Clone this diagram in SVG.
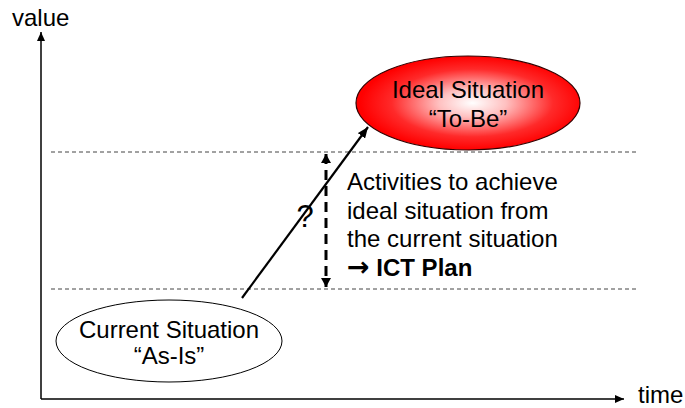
<svg xmlns="http://www.w3.org/2000/svg" width="685" height="408" viewBox="0 0 685 408">
  <style>
    text { font-family: "Liberation Sans", Arial, sans-serif; font-size: 24px; fill: #000; }
    .c { text-anchor: middle; }
    .sym { font-family: "DejaVu Sans", "Liberation Sans", sans-serif; font-size: 27px; }
    .axis { stroke: #000; stroke-width: 1.5; fill: none; }
    .level { stroke: #444; stroke-width: 1; stroke-dasharray: 4 3; fill: none; }
    .flow { stroke: #000; stroke-width: 2.2; fill: none; }
    .gap { stroke: #000; stroke-width: 3; stroke-dasharray: 10 6; fill: none; }
  </style>
  <defs>
    <marker id="tip" viewBox="0 0 10 10" refX="10" refY="5" markerWidth="9" markerHeight="8" markerUnits="userSpaceOnUse" orient="auto" preserveAspectRatio="none">
      <path d="M0,0 L10,5 L0,10 Z" fill="#000"/>
    </marker>
    <marker id="tipFlow" viewBox="0 0 10 10" refX="10" refY="5" markerWidth="11" markerHeight="9" markerUnits="userSpaceOnUse" orient="auto" preserveAspectRatio="none">
      <path d="M0,0 L10,5 L0,10 Z" fill="#000"/>
    </marker>
    <marker id="tipGap" viewBox="0 0 10 10" refX="10" refY="5" markerWidth="9" markerHeight="10" markerUnits="userSpaceOnUse" orient="auto-start-reverse" preserveAspectRatio="none">
      <path d="M0,0 L10,5 L0,10 Z" fill="#000"/>
    </marker>
    <radialGradient id="redGlow" cx="0.52" cy="0.5" r="0.5">
      <stop offset="0" stop-color="#ffffff"/>
      <stop offset="0.3" stop-color="#ffc0c0"/>
      <stop offset="0.72" stop-color="#ff2a2a"/>
      <stop offset="1" stop-color="#ff0000"/>
    </radialGradient>
  </defs>

  <!-- axes -->
  <g id="axes">
    <line class="axis" x1="41" y1="399" x2="41" y2="32" marker-end="url(#tip)"/>
    <line class="axis" x1="41" y1="399" x2="624" y2="399" marker-end="url(#tip)"/>
    <text x="12" y="26">value</text>
    <text x="638" y="403">time</text>
  </g>

  <!-- value levels -->
  <g id="levels">
    <line class="level" x1="51" y1="152" x2="637" y2="152"/>
    <line class="level" x1="51" y1="289" x2="637" y2="289"/>
  </g>

  <g id="connectors">
    <line class="flow" x1="242" y1="298" x2="368" y2="127" marker-end="url(#tipFlow)"/>
    <line class="gap" x1="326" y1="154" x2="326" y2="287" marker-start="url(#tipGap)" marker-end="url(#tipGap)"/>
  </g>

  <g id="ideal">
    <ellipse cx="468" cy="103" rx="112" ry="47" fill="url(#redGlow)" stroke="#300" stroke-width="1.2"/>
    <text class="c" x="468" y="98">Ideal Situation</text>
    <text class="c" x="468" y="127">“To-Be”</text>
  </g>

  <g id="current">
    <ellipse cx="169" cy="341" rx="113" ry="41" fill="#fff" stroke="#000" stroke-width="1"/>
    <text class="c" x="169" y="338">Current Situation</text>
    <text class="c" x="169" y="364">“As-Is”</text>
  </g>

  <g id="question">
    <text class="c" x="305" y="227" style="font-size:31px">?</text>
  </g>

  <g id="activities">
    <text x="347" y="190">Activities to achieve</text>
    <text x="347" y="218.5">ideal situation from</text>
    <text x="347" y="247">the current situation</text>
    <text x="347" y="276" font-weight="bold"><tspan class="sym">→</tspan> ICT Plan</text>
  </g>
</svg>
